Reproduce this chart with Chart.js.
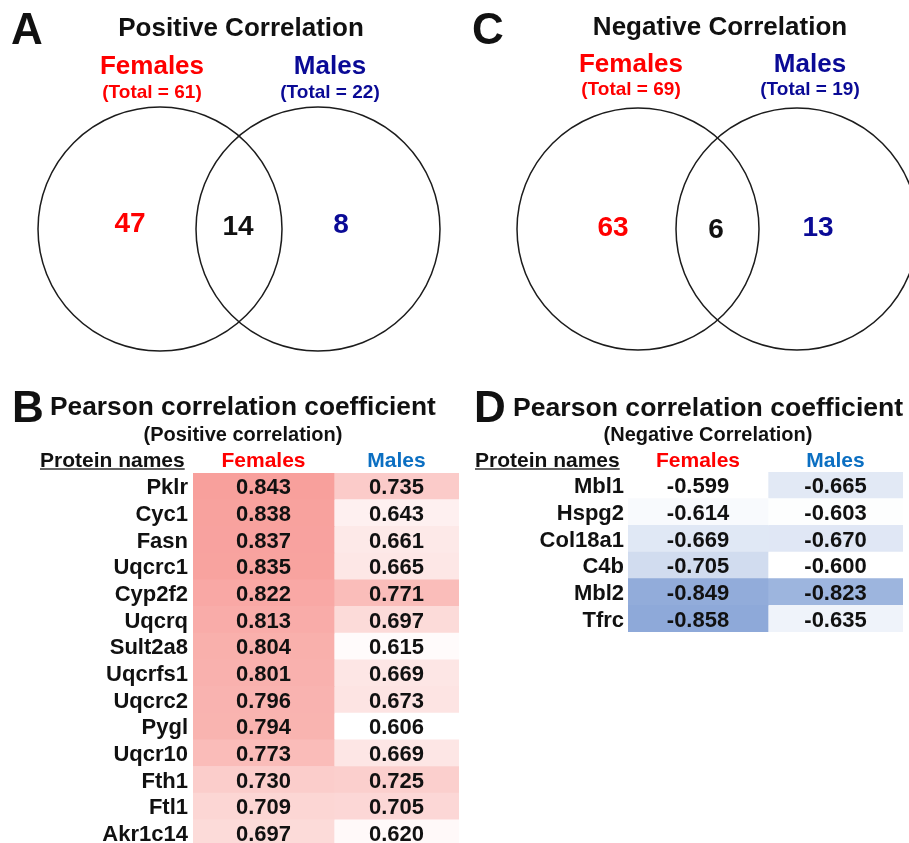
<!DOCTYPE html>
<html>
<head>
<meta charset="utf-8">
<script src="https://cdn.jsdelivr.net/npm/chart.js@4.4.1/dist/chart.umd.min.js"></script>
<style>
  html, body { margin: 0; padding: 0; background: #fff; overflow: hidden; }
  #page { position: relative; width: 909px; height: 843px; overflow: hidden; background: #fff; }
  canvas { position: absolute; }
</style>
</head>
<body>
<div id="page">
  <canvas id="vennPos" width="455" height="380" style="left:0;top:0"></canvas>
  <canvas id="vennNeg" width="454" height="380" style="left:455px;top:0"></canvas>
  <canvas id="tablePos" width="470" height="470" style="left:0;top:380px"></canvas>
  <canvas id="tableNeg" width="449" height="280" style="left:460px;top:380px"></canvas>
</div>
<script>
// ---- data ----
// venn counts: [females only, shared, males only]
var posTotals = [61, 22];
var posCounts = [47, 14, 8];
var negTotals = [69, 19];
var negCounts = [63, 6, 13];

var posProteins = ['Pklr', 'Cyc1', 'Fasn', 'Uqcrc1', 'Cyp2f2', 'Uqcrq', 'Sult2a8',
  'Uqcrfs1', 'Uqcrc2', 'Pygl', 'Uqcr10', 'Fth1', 'Ftl1', 'Akr1c14'];
var posFemales = [0.843, 0.838, 0.837, 0.835, 0.822, 0.813, 0.804, 0.801, 0.796, 0.794, 0.773, 0.730, 0.709, 0.697];
var posMales = [0.735, 0.643, 0.661, 0.665, 0.771, 0.697, 0.615, 0.669, 0.673, 0.606, 0.669, 0.725, 0.705, 0.620];

var negProteins = ['Mbl1', 'Hspg2', 'Col18a1', 'C4b', 'Mbl2', 'Tfrc'];
var negFemales = [-0.599, -0.614, -0.669, -0.705, -0.849, -0.858];
var negMales = [-0.665, -0.603, -0.670, -0.600, -0.823, -0.635];

var FONT = '"Liberation Sans", Arial, Helvetica, sans-serif';
var RED = '#ff0000';
var NAVY = '#0a0a96';
var TABLE_BLUE = '#0b6fc2';

Chart.defaults.font.family = FONT;

// colour scales for the heat cells
function redScale(v) {
  var t = Math.max(0, Math.min(1, (v - 0.606) / (0.843 - 0.606)));
  return mix([255, 255, 255], [248, 160, 156], t);
}
function blueScale(v) {
  var t = Math.max(0, Math.min(1, (Math.abs(v) - 0.599) / (0.858 - 0.599)));
  return mix([255, 255, 255], [142, 169, 217], t);
}
function mix(a, b, t) {
  return 'rgb(' + Math.round(a[0] + (b[0] - a[0]) * t) + ',' +
    Math.round(a[1] + (b[1] - a[1]) * t) + ',' + Math.round(a[2] + (b[2] - a[2]) * t) + ')';
}

// draws text, y is the centre of the capitals
function putText(ctx, it) {
  ctx.save();
  ctx.font = 'bold ' + it.size + 'px ' + FONT;
  ctx.fillStyle = it.color || '#111';
  ctx.textAlign = it.align || 'center';
  ctx.textBaseline = 'alphabetic';
  ctx.fillText(it.text, it.x, it.y + 0.358 * it.size);
  if (it.underline) {
    var w = ctx.measureText(it.text).width;
    var x0 = it.align === 'left' ? it.x : it.align === 'right' ? it.x - w : it.x - w / 2;
    ctx.strokeStyle = '#333';
    ctx.lineWidth = 1.5;
    ctx.beginPath();
    ctx.moveTo(x0, it.y + it.underline);
    ctx.lineTo(x0 + w, it.y + it.underline);
    ctx.stroke();
  }
  ctx.restore();
}

var textPlugin = {
  id: 'panelText',
  afterDraw: function(chart, args, opts) {
    (opts.items || []).forEach(function(it) { putText(chart.ctx, it); });
    if (opts.dynamic) opts.dynamic(chart).forEach(function(it) { putText(chart.ctx, it); });
  }
};

// value text inside each cell + protein names at the y scale positions
var cellPlugin = {
  id: 'cellValues',
  afterDatasetsDraw: function(chart, args, opts) {
    chart.data.datasets.forEach(function(ds, i) {
      chart.getDatasetMeta(i).data.forEach(function(el, j) {
        putText(chart.ctx, { text: ds.values[j].toFixed(3), x: (el.x + el.base) / 2, y: el.y, size: 22, color: '#111' });
      });
    });
    var sy = chart.scales.y;
    chart.data.labels.forEach(function(name, j) {
      putText(chart.ctx, { text: name, x: chart.chartArea.left - opts.gap, y: sy.getPixelForValue(j), size: 22, align: 'right' });
    });
  }
};

// ---- venn panels ----
function venn(id, letter, title, totals, counts, lay) {
  var c = document.getElementById(id);
  new Chart(c, {
    type: 'bubble',
    data: {
      datasets: [{
        data: [{ x: lay.left, y: lay.cy, r: lay.r }, { x: lay.right, y: lay.cy, r: lay.r }],
        backgroundColor: 'rgba(0,0,0,0)',
        borderColor: '#1c1c1c',
        borderWidth: 1.5,
        clip: false
      }]
    },
    options: {
      responsive: false, animation: false, events: [],
      layout: { padding: 0, autoPadding: false },
      scales: {
        x: { display: false, min: 0, max: c.width },
        y: { display: false, min: 0, max: c.height, reverse: true }
      },
      plugins: {
        legend: { display: false }, tooltip: { enabled: false },
        panelText: {
          items: [
            { text: letter, x: lay.letterX, y: 28.5, size: 44, align: 'left' },
            { text: title, x: lay.titleX, y: lay.titleY, size: 26 },
            { text: 'Females', x: lay.femX, y: lay.headY, size: 26, color: RED },
            { text: '(Total = ' + totals[0] + ')', x: lay.femX, y: lay.headY + 26, size: 19, color: RED },
            { text: 'Males', x: lay.maleX, y: lay.headY, size: 26, color: NAVY },
            { text: '(Total = ' + totals[1] + ')', x: lay.maleX, y: lay.headY + 26, size: 19, color: NAVY }
          ],
          dynamic: function(ch) {
            var sx = ch.scales.x, sy = ch.scales.y;
            var cols = [RED, '#111', NAVY];
            return counts.map(function(n, k) {
              return { text: String(n), x: sx.getPixelForValue(lay.countX[k]), y: sy.getPixelForValue(lay.countY[k]), size: 28, color: cols[k] };
            });
          }
        }
      }
    },
    plugins: [textPlugin]
  });
}

venn('vennPos', 'A', 'Positive Correlation', posTotals, posCounts, {
  left: 160, right: 318, cy: 229, r: 122, letterX: 11, titleX: 241, titleY: 27, headY: 65,
  femX: 152, maleX: 330, countX: [130, 238, 341], countY: [222, 225, 223]
});
venn('vennNeg', 'C', 'Negative Correlation', negTotals, negCounts, {
  left: 183, right: 342, cy: 229, r: 121, letterX: 17, titleX: 265, titleY: 26, headY: 62.5,
  femX: 176, maleX: 355, countX: [158, 261, 363], countY: [226, 228, 226]
});

// ---- table panels ----
function table(id, letter, sub, proteins, fem, mal, colorFn, lay) {
  new Chart(document.getElementById(id), {
    type: 'bar',
    data: {
      labels: proteins,
      datasets: [
        { label: 'Females', data: fem.map(function() { return [0, lay.split]; }), backgroundColor: fem.map(colorFn), values: fem },
        { label: 'Males', data: mal.map(function() { return [lay.split, 1]; }), backgroundColor: mal.map(colorFn), values: mal }
      ]
    },
    options: {
      indexAxis: 'y', responsive: false, animation: false, events: [],
      layout: { autoPadding: false, padding: { left: lay.axisWidth, right: lay.padRight, top: lay.padTop, bottom: lay.padBottom } },
      datasets: { bar: { grouped: false, barPercentage: 1, categoryPercentage: 1, borderWidth: 0 } },
      scales: {
        x: { display: false, min: 0, max: 1 },
        y: { display: false }
      },
      plugins: {
        legend: { display: false }, tooltip: { enabled: false },
        cellValues: { gap: lay.gap },
        panelText: {
          items: [
            { text: letter, x: lay.letterX, y: 26, size: 44, align: 'left' },
            { text: 'Pearson correlation coefficient', x: lay.titleX, y: 26, size: lay.titleSize, align: 'left' },
            { text: sub, x: lay.subX, y: 53.5, size: 20 },
            { text: 'Protein names', x: lay.namesX, y: 79, size: 21, align: 'left', underline: 10 }
          ],
          dynamic: function(ch) {
            var sx = ch.scales.x;
            return [
              { text: 'Females', x: sx.getPixelForValue(lay.split / 2), y: 79, size: 21, color: RED },
              { text: 'Males', x: sx.getPixelForValue((lay.split + 1) / 2), y: 79, size: 21, color: TABLE_BLUE }
            ];
          }
        }
      }
    },
    plugins: [textPlugin, cellPlugin]
  });
}

table('tablePos', 'B', '(Positive correlation)', posProteins, posFemales, posMales, redScale, {
  split: 141 / 266, padRight: 11, padTop: 93, padBottom: 3.5, axisWidth: 193, gap: 5,
  letterX: 12, titleX: 50, titleSize: 26.3, subX: 243, namesX: 40
});
table('tableNeg', 'D', '(Negative Correlation)', negProteins, negFemales, negMales, blueScale, {
  split: 140 / 275, padRight: 6, padTop: 92, padBottom: 28, axisWidth: 168, gap: 4,
  letterX: 14, titleX: 53, titleSize: 26.6, subX: 248, namesX: 15
});
</script>
</body>
</html>
